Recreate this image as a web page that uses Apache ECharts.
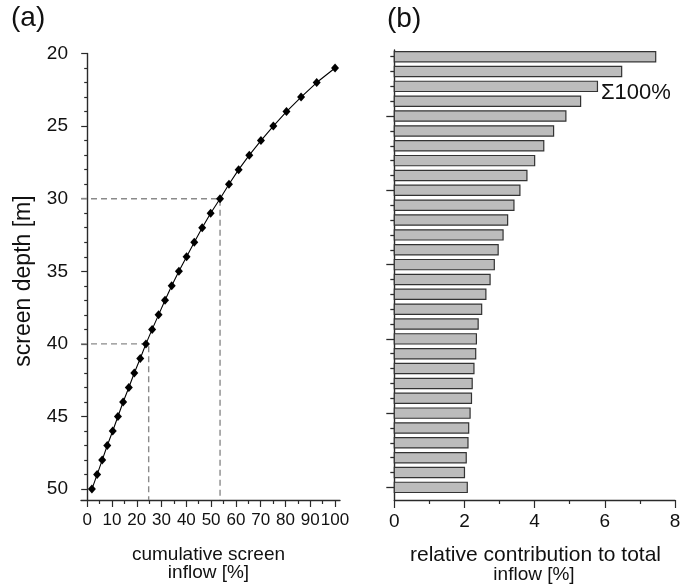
<!DOCTYPE html>
<html>
<head>
<meta charset="utf-8">
<script src="https://cdn.jsdelivr.net/npm/echarts@6/dist/echarts.min.js"></script>
<style>
  html, body { margin: 0; padding: 0; background: #fff; }
  #chart { width: 690px; height: 588px; }
</style>
</head>
<body>
<div id="chart"></div>
<script>
// Screen depth of each 1 m screen section [m]
const depths = [21, 22, 23, 24, 25, 26, 27, 28, 29, 30,
                31, 32, 33, 34, 35, 36, 37, 38, 39, 40,
                41, 42, 43, 44, 45, 46, 47, 48, 49, 50];

// (a) cumulative screen inflow [%], summed from the bottom of the screen
const cumulativeInflow = [100, 92.6, 86.3, 80.4, 75.1, 70.1, 65.4, 61.1, 57.2, 53.6,
                          49.8, 46.4, 43.2, 40.1, 37.0, 34.1, 31.4, 28.8, 26.2, 23.7,
                          21.4, 19.0, 16.8, 14.5, 12.4, 10.3, 8.1, 6.05, 4.0, 1.9];

// (b) relative contribution of each section to total inflow [%]
const relativeContribution = [7.45, 6.48, 5.79, 5.31, 4.89, 4.54, 4.26, 4.00, 3.78, 3.58,
                              3.41, 3.23, 3.10, 2.96, 2.85, 2.73, 2.61, 2.49, 2.39, 2.34,
                              2.32, 2.27, 2.22, 2.20, 2.16, 2.12, 2.10, 2.05, 2.00, 2.08];

// Reading guides: depth and the cumulative inflow reached there
const guideDepths = [30, 40];
const guideInflow = [53.6, 24.8];

// Tick positions
const depthMajorTicks = [20, 25, 30, 35, 40, 45, 50];
const depthMinorTicks = [21, 22, 23, 24, 26, 27, 28, 29, 31, 32, 33, 34,
                         36, 37, 38, 39, 41, 42, 43, 44, 46, 47, 48, 49];
const inflowMajorTicks = [0, 10, 20, 30, 40, 50, 60, 70, 80, 90, 100];
const inflowMinorTicks = [5, 15, 25, 35, 45, 55, 65, 75, 85, 95];
const barDepthMajorTicks = [25, 30, 35, 40, 45, 50];

const FONT = '"Liberation Sans", Arial, Helvetica, sans-serif';
const INK = '#111';
const AXIS = '#2a2a2a';

const leftX = { min: -2.5, max: 102 };
const leftY = { min: 20, max: 50.75 };
const rightY = { min: 20.55, max: 50.85 };

const chart = echarts.init(document.getElementById('chart'), null, { renderer: 'canvas' });

const axisLineStyle = { show: true, lineStyle: { color: AXIS, width: 1.4 } };

const guideSeries = guideDepths.map((d, i) => ({
  type: 'line',
  xAxisIndex: 0,
  yAxisIndex: 0,
  data: [[leftX.min, d], [guideInflow[i], d], [guideInflow[i], leftY.max]],
  symbol: 'none',
  silent: true,
  z: 1,
  lineStyle: { color: '#8a8a8a', width: 1.4, type: [6, 4] }
}));

chart.setOption({
  animation: false,
  backgroundColor: '#fff',
  textStyle: { fontFamily: FONT, color: INK },
  grid: [
    { left: 81, right: 350, top: 53.5, bottom: 88 },
    { left: 394.3, right: 15, top: 50, bottom: 88 }
  ],
  xAxis: [
    {
      gridIndex: 0, type: 'value', position: 'bottom',
      min: leftX.min, max: leftX.max,
      axisLine: axisLineStyle,
      axisTick: { show: true, customValues: inflowMajorTicks, length: 7, lineStyle: { color: AXIS, width: 1.2 } },
      axisLabel: {
        customValues: inflowMajorTicks, hideOverlap: false,
        fontSize: 17, color: INK, margin: 12, fontFamily: FONT
      },
      splitLine: { show: false }
    },
    {
      gridIndex: 0, type: 'value', position: 'bottom',
      min: leftX.min, max: leftX.max,
      axisLine: { show: false },
      axisTick: { show: true, customValues: inflowMinorTicks, length: 4, lineStyle: { color: AXIS, width: 1.2 } },
      axisLabel: { show: false },
      splitLine: { show: false }
    },
    {
      gridIndex: 1, type: 'value', position: 'bottom',
      min: 0, max: 8, interval: 2,
      axisLine: axisLineStyle,
      axisTick: { show: true, length: 8, lineStyle: { color: AXIS, width: 1.2 } },
      minorTick: { show: true, splitNumber: 2, length: 4, lineStyle: { color: AXIS, width: 1.2 } },
      axisLabel: { showMinLabel: true, showMaxLabel: true, fontSize: 19, color: INK, margin: 12, fontFamily: FONT },
      splitLine: { show: false }
    }
  ],
  yAxis: [
    {
      gridIndex: 0, type: 'value', position: 'left', inverse: true,
      min: leftY.min, max: leftY.max,
      axisLine: axisLineStyle,
      axisTick: { show: true, customValues: depthMajorTicks, length: 6, lineStyle: { color: AXIS, width: 1.2 } },
      axisLabel: {
        customValues: depthMajorTicks, showMinLabel: true, showMaxLabel: true,
        fontSize: 19, color: INK, margin: 13, fontFamily: FONT
      },
      splitLine: { show: false }
    },
    {
      gridIndex: 0, type: 'value', position: 'left', inverse: true,
      min: leftY.min, max: leftY.max,
      axisLine: { show: false },
      axisTick: { show: true, customValues: depthMinorTicks, length: 3, lineStyle: { color: AXIS, width: 1.2 } },
      axisLabel: { show: false },
      splitLine: { show: false }
    },
    {
      gridIndex: 1, type: 'value', position: 'left', inverse: true,
      min: rightY.min, max: rightY.max,
      axisLine: axisLineStyle,
      axisTick: { show: true, customValues: barDepthMajorTicks, length: 8, lineStyle: { color: AXIS, width: 1.3 } },
      axisLabel: { show: false },
      splitLine: { show: false }
    },
    {
      gridIndex: 1, type: 'value', position: 'left', inverse: true,
      min: rightY.min, max: rightY.max,
      axisLine: { show: false },
      axisTick: { show: true, customValues: depthMinorTicks.filter(v => v > rightY.min), length: 4, lineStyle: { color: AXIS, width: 1.3 } },
      axisLabel: { show: false },
      splitLine: { show: false }
    }
  ],
  series: [
    ...guideSeries,
    {
      type: 'line',
      xAxisIndex: 0,
      yAxisIndex: 0,
      data: depths.map((d, i) => [cumulativeInflow[i], d]),
      symbol: 'diamond',
      symbolSize: [8, 9],
      itemStyle: { color: '#000' },
      lineStyle: { color: '#000', width: 1.1 },
      z: 3
    },
    {
      type: 'custom',
      xAxisIndex: 2,
      yAxisIndex: 2,
      data: depths.map((d, i) => [relativeContribution[i], d]),
      encode: { x: 0, y: 1 },
      renderItem: function (params, api) {
        const value = api.value(0);
        const depth = api.value(1);
        const start = api.coord([0, depth]);
        const end = api.coord([value, depth]);
        const h = api.size([0, 1])[1] * 0.69;
        return {
          type: 'rect',
          shape: { x: start[0], y: start[1] - h / 2, width: end[0] - start[0], height: h },
          style: { fill: '#bcbcbc', stroke: '#333', lineWidth: 1.2 }
        };
      },
      z: 2
    }
  ],
  graphic: [
    { type: 'text', left: 11, top: 4, style: { text: '(a)', font: '28px ' + FONT, fill: INK } },
    { type: 'text', left: 387, top: 5, style: { text: '(b)', font: '28px ' + FONT, fill: INK } },
    {
      type: 'text', x: 24, y: 281, rotation: Math.PI / 2,
      style: { text: 'screen depth [m]', font: '23px ' + FONT, fill: INK, align: 'center', verticalAlign: 'middle' }
    },
    { type: 'text', x: 208.5, y: 555, style: { text: 'cumulative screen', font: '19px ' + FONT, fill: INK, align: 'center', verticalAlign: 'middle' } },
    { type: 'text', x: 208.5, y: 573, style: { text: 'inflow [%]', font: '19px ' + FONT, fill: INK, align: 'center', verticalAlign: 'middle' } },
    { type: 'text', x: 535.5, y: 555, style: { text: 'relative contribution to total', font: '21px ' + FONT, fill: INK, align: 'center', verticalAlign: 'middle' } },
    { type: 'text', x: 534, y: 575, style: { text: 'inflow [%]', font: '19px ' + FONT, fill: INK, align: 'center', verticalAlign: 'middle' } },
    { type: 'text', x: 601, y: 93, style: { text: 'Σ100%', font: '22px ' + FONT, fill: INK, align: 'left', verticalAlign: 'middle' } }
  ]
});
</script>
</body>
</html>
